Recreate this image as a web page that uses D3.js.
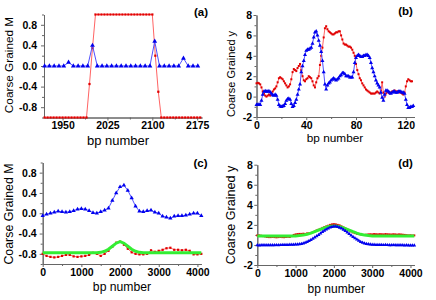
<!DOCTYPE html>
<html>
<head>
<meta charset="utf-8">
<script src="https://cdn.jsdelivr.net/npm/d3@7"></script>
<style>
body { margin: 0; background: #fff; }
text { font-family: Arial, "Liberation Sans", sans-serif; }
</style>
</head>
<body>
<svg id="svg_fig" width="436" height="300"></svg>
<script>
// panel (a): coarse grained M around bp 2000
var bpA_red = d3.range(1920, 2181, 5);
var mA_red = [-1,-1,-1,-1,-1,-1,-1,-1,-1,-1,-1,-1,-1,-1,-1,
    -0.35,0.35,
    1,1,1,1,1,1,1,1,1,1,1,1,1,1,1,1,1,1,1,1,
    0.2,-0.5,
    -1,-1,-1,-1,-1,-1,-1,-1,-1,-1,-1,-1,-1,-1];
var bpA_blue = d3.range(1920, 2177, 8);
var mA_blue = [0,0,0,0,0,0.07,0,0,0,0,0.4,0,0,0,0,0,0,0,0,0,0,0,0,0.48,0,0,0,0,0,0.15,0,0,0];

// panel (b): coarse grained y, bp 0..126
var bpB_red = d3.range(0, 126);
var yB_red = [1.3,1.35,1.3,1.2,0.9,0.5,0.3,0.1,0.0,0.1,
    0.2,0.1,0.3,0.5,0.7,0.8,1.0,1.4,1.8,1.9,
    1.8,1.7,1.5,1.3,1.1,0.9,1.0,1.2,1.7,2.4,
    2.7,2.6,2.5,2.8,3.0,3.2,2.6,2.0,1.6,1.5,
    1.7,1.8,2.0,1.9,1.8,1.5,1.1,0.9,1.4,1.8,
    2.0,3.1,4.0,4.8,5.8,6.7,6.9,6.6,6.4,6.3,
    6.2,6.1,6.1,6.2,6.3,6.3,6.4,6.4,6.0,5.6,
    5.2,5.1,5.1,5.0,4.9,4.9,4.8,4.6,4.3,4.0,
    3.2,2.6,2.2,1.8,1.6,1.3,1.1,0.9,0.7,0.6,
    0.5,0.4,0.3,0.3,0.3,0.3,0.4,0.5,0.4,0.3,
    0.6,1.4,0.4,0.0,0.3,0.5,0.4,0.3,0.4,0.5,
    0.5,0.6,0.5,0.5,0.5,0.4,0.4,0.3,0.2,0.4,
    1.0,1.5,1.7,1.6,1.5,1.5];
var bpB_blue = d3.range(0, 127);
var yB_blue = [-0.8,-0.8,-0.75,-0.8,-0.4,0.2,0.5,0.55,0.5,0.5,
    0.55,0.45,0.3,0.15,0.1,0.2,0.1,-0.3,-0.8,-0.95,
    -1.0,-0.95,-0.9,-0.7,-0.4,-0.25,-0.2,-0.3,-0.7,-1.0,
    -0.9,-0.6,-0.3,0.2,0.7,1.2,2.4,3.0,3.5,4.1,
    4.5,4.6,4.6,4.7,4.8,5.2,5.8,6.3,6.4,6.0,
    5.5,5.0,4.4,3.5,2.4,1.2,0.7,1.1,1.3,1.4,
    1.6,1.7,1.8,1.7,1.6,1.7,1.8,2.0,2.1,2.3,
    2.3,2.2,2.0,2.0,2.0,1.9,1.9,1.9,2.4,3.3,
    3.8,4.0,4.1,4.0,3.9,3.9,4.0,4.0,4.1,4.1,
    4.0,3.8,3.3,2.8,2.4,2.0,1.6,1.3,1.1,0.9,
    0.4,-0.1,-0.4,0.2,0.6,0.6,0.5,0.4,0.3,0.4,
    0.5,0.5,0.4,0.4,0.5,0.5,0.5,0.4,0.4,0.3,
    -0.3,-0.8,-1.1,-1.1,-1.0,-1.0,-0.9];

// panel (c): coarse grained M, bp 0..4100
var bpC = d3.range(0, 4101, 100);
var mC_blue = [-0.05,-0.02,0.0,0.02,0.04,0.03,0.02,0.03,0.05,0.08,
    0.09,0.08,0.05,0.01,0.0,0.03,0.06,0.1,0.25,0.4,
    0.52,0.55,0.45,0.3,0.14,0.04,0.03,0.05,0.06,0.02,
    0.0,-0.06,-0.08,-0.1,-0.06,-0.05,-0.05,-0.04,-0.02,0.0,
    0.0,-0.05];
var mC_red = [-0.8,-0.84,-0.86,-0.87,-0.86,-0.84,-0.82,-0.82,-0.85,-0.86,
    -0.85,-0.84,-0.82,-0.78,-0.8,-0.84,-0.8,-0.74,-0.66,-0.58,
    -0.56,-0.62,-0.7,-0.77,-0.8,-0.81,-0.81,-0.8,-0.73,-0.76,
    -0.74,-0.72,-0.69,-0.68,-0.72,-0.72,-0.73,-0.72,-0.74,-0.81,
    -0.81,-0.8];
var mC_fit = [-0.78,-0.78,-0.78,-0.78,-0.78,-0.78,-0.78,-0.78,-0.78,-0.78,
    -0.78,-0.78,-0.78,-0.78,-0.78,-0.77,-0.75,-0.71,-0.65,-0.59,
    -0.56,-0.59,-0.65,-0.71,-0.75,-0.77,-0.78,-0.78,-0.78,-0.78,
    -0.78,-0.78,-0.78,-0.78,-0.78,-0.78,-0.78,-0.78,-0.78,-0.78,
    -0.78,-0.78];

// panel (d): coarse grained y, bp 0..4100
var bpD = d3.range(0, 4101, 50);
var yD_blue = [-0.03,-0.04,-0.03,-0.02,-0.03,-0.02,-0.03,-0.03,-0.02,-0.02,
    -0.01,-0.02,-0.01,0.0,0.0,0.01,0.0,0.02,0.02,0.03,
    0.05,0.06,0.08,0.1,0.15,0.22,0.3,0.4,0.5,0.62,
    0.75,0.88,1.0,1.15,1.3,1.42,1.55,1.65,1.75,1.8,
    1.85,1.84,1.8,1.72,1.65,1.52,1.4,1.25,1.1,0.95,
    0.8,0.68,0.55,0.42,0.3,0.22,0.15,0.1,0.07,0.05,
    0.03,0.02,0.01,0.01,0.0,0.0,-0.01,0.0,-0.01,-0.02,
    -0.02,-0.01,-0.02,-0.03,-0.03,-0.02,-0.03,-0.04,-0.03,-0.04,
    -0.05,-0.04,-0.05];
var yD_red = [0.95,0.95,0.92,0.88,0.85,0.8,0.78,0.78,0.8,0.78,
    0.76,0.78,0.8,0.78,0.77,0.8,0.82,0.8,0.88,1.0,
    1.05,1.08,1.1,1.1,1.12,1.1,1.15,1.15,1.2,1.28,
    1.35,1.45,1.52,1.6,1.7,1.78,1.85,1.92,2.0,2.05,
    2.07,2.05,2.0,1.95,1.85,1.75,1.65,1.55,1.45,1.35,
    1.25,1.18,1.12,1.08,1.05,1.0,1.0,1.02,1.05,1.06,
    1.05,1.08,1.06,1.05,1.07,1.06,1.05,1.08,1.06,1.05,
    1.04,1.06,1.05,1.03,1.05,1.04,1.02,1.0,0.97,0.95,
    0.96,0.94,0.95];
var bpD_fit = d3.range(0, 4101, 100);
var yD_fit = [0.9,0.9,0.9,0.9,0.9,0.9,0.9,0.9,0.9,0.9,
    0.9,0.93,0.98,1.06,1.18,1.32,1.48,1.63,1.77,1.87,
    1.9,1.87,1.77,1.63,1.48,1.32,1.18,1.06,0.98,0.93,
    0.9,0.9,0.9,0.9,0.9,0.9,0.9,0.9,0.9,0.9,
    0.9,0.9];

var svg = d3.select("#svg_fig");

function fmt1(d) { return d.toFixed(1); }
function fmt0(d) { return String(d); }

function drawPanel(p) {
    var g = svg.append("g").attr("transform", "translate(" + p.left + "," + p.top + ")");
    var x = d3.scaleLinear().domain(p.xDomain).range([0, p.width]);
    var y = d3.scaleLinear().domain(p.yDomain).range([p.height, 0]);

    // minor ticks
    g.append("g").attr("transform", "translate(0," + p.height + ")")
        .call(d3.axisBottom(x).tickValues(p.xMinor).tickSize(2).tickSizeOuter(0).tickFormat(""))
        .attr("color", "#666");
    g.append("g")
        .call(d3.axisLeft(y).tickValues(p.yMinor).tickSize(2).tickSizeOuter(0).tickFormat(""))
        .attr("color", "#666");

    var xAxis = g.append("g").attr("transform", "translate(0," + p.height + ")")
        .call(d3.axisBottom(x).tickValues(p.xTicks).tickSize(3).tickSizeOuter(0)
            .tickPadding(1.5).tickFormat(p.xFormat));
    var yAxis = g.append("g")
        .call(d3.axisLeft(y).tickValues(p.yTicks).tickSize(3).tickSizeOuter(0)
            .tickPadding(p.yPad).tickFormat(p.yFormat));
    [xAxis, yAxis].forEach(function(a) {
        a.attr("color", "#666")
            .attr("font-family", "Arial, 'Liberation Sans', sans-serif")
            .attr("font-size", 10.5)
            .attr("font-weight", p.tickWeight);
        a.selectAll("text").attr("fill", "#000");
    });

    p.series.forEach(function(s) {
        var pts = s.x.map(function(v, i) { return [v, s.y[i]]; });
        var line = d3.line()
            .x(function(d) { return x(d[0]); })
            .y(function(d) { return y(d[1]); });
        g.append("path")
            .datum(pts)
            .attr("fill", "none")
            .attr("stroke", s.lineColor)
            .attr("stroke-width", s.lineWidth)
            .attr("d", line);
        if (s.symbol) {
            var sym = d3.symbol().type(s.symbol).size(s.size);
            g.selectAll(null)
                .data(pts)
                .enter().append("path")
                .attr("transform", function(d) { return "translate(" + x(d[0]) + "," + y(d[1]) + ")"; })
                .attr("fill", s.color)
                .attr("d", sym);
        }
    });

    svg.append("text")
        .attr("transform", "translate(" + p.yLabelPos[0] + "," + p.yLabelPos[1] + ") rotate(-90)")
        .attr("text-anchor", "middle")
        .attr("dy", "0.35em")
        .attr("font-size", p.yLabelSize)
        .text(p.yLabel);
    svg.append("text")
        .attr("x", p.xLabelPos[0])
        .attr("y", p.xLabelPos[1])
        .attr("text-anchor", "middle")
        .attr("dy", "0.35em")
        .attr("font-size", p.xLabelSize)
        .text("bp number");
    svg.append("text")
        .attr("x", p.tagPos[0])
        .attr("y", p.tagPos[1])
        .attr("text-anchor", "middle")
        .attr("font-size", 11.5)
        .attr("font-weight", "bold")
        .text(p.tag);
}

function redSeries(xs, ys, size) {
    return {x: xs, y: ys, lineColor: "#ff6464", lineWidth: 1, symbol: d3.symbolSquare, size: size, color: "#e00000"};
}
function blueSeries(xs, ys, size) {
    return {x: xs, y: ys, lineColor: "#5050ff", lineWidth: 1, symbol: d3.symbolTriangle, size: size, color: "#0000ee"};
}
function fitSeries(xs, ys) {
    return {x: xs, y: ys, lineColor: "#33ee33", lineWidth: 3, symbol: null};
}

drawPanel({
    left: 44, top: 14.5, width: 158, height: 103,
    xDomain: [1919, 2183], yDomain: [-1, 1],
    xTicks: [1950, 2025, 2100, 2175], xMinor: [1987.5, 2062.5, 2137.5],
    yTicks: [-0.8, -0.4, 0, 0.4, 0.8], yMinor: [-1, -0.6, -0.2, 0.2, 0.6, 1],
    xFormat: fmt0, yFormat: fmt1, yPad: 4, tickWeight: "bold",
    series: [redSeries(bpA_red, mA_red, 5), blueSeries(bpA_blue, mA_blue, 10)],
    yLabel: "Coarse Grained M", yLabelPos: [9, 65], yLabelSize: 11.8,
    xLabelPos: [118, 140], xLabelSize: 13,
    tag: "(a)", tagPos: [201, 15.5]
});

drawPanel({
    left: 256.5, top: 15, width: 158, height: 102,
    xDomain: [0, 127], yDomain: [-2, 8],
    xTicks: [0, 40, 80, 120], xMinor: [20, 60, 100],
    yTicks: [-2, 0, 2, 4, 6, 8], yMinor: [-1, 1, 3, 5, 7],
    xFormat: fmt0, yFormat: fmt0, yPad: 1.5, tickWeight: "600",
    series: [redSeries(bpB_red, yB_red, 4), blueSeries(bpB_blue, yB_blue, 7)],
    yLabel: "Coarse Grained y", yLabelPos: [231, 74], yLabelSize: 11,
    xLabelPos: [335, 138], xLabelSize: 11.8,
    tag: "(b)", tagPos: [405.5, 15]
});

drawPanel({
    left: 42.7, top: 162.5, width: 158.6, height: 101.5,
    xDomain: [0, 4100], yDomain: [-1, 1],
    xTicks: [0, 1000, 2000, 3000, 4000], xMinor: [500, 1500, 2500, 3500],
    yTicks: [-0.8, -0.4, 0, 0.4, 0.8], yMinor: [-1, -0.6, -0.2, 0.2, 0.6, 1],
    xFormat: fmt0, yFormat: fmt1, yPad: 3, tickWeight: "bold",
    series: [redSeries(bpC, mC_red, 5), fitSeries(bpC, mC_fit), blueSeries(bpC, mC_blue, 8)],
    yLabel: "Coarse Grained M", yLabelPos: [8.5, 214], yLabelSize: 12.4,
    xLabelPos: [122, 287], xLabelSize: 12.2,
    tag: "(c)", tagPos: [200.5, 167]
});

drawPanel({
    left: 257.3, top: 164.7, width: 157, height: 100.3,
    xDomain: [0, 4100], yDomain: [-2, 8],
    xTicks: [0, 1000, 2000, 3000, 4000], xMinor: [500, 1500, 2500, 3500],
    yTicks: [-2, 0, 2, 4, 6, 8], yMinor: [-1, 1, 3, 5, 7],
    xFormat: fmt0, yFormat: fmt0, yPad: 1.5, tickWeight: "600",
    series: [redSeries(bpD, yD_red, 4), fitSeries(bpD_fit, yD_fit), blueSeries(bpD, yD_blue, 6)],
    yLabel: "Coarse Grained y", yLabelPos: [230.5, 215], yLabelSize: 12.6,
    xLabelPos: [336.3, 288.3], xLabelSize: 12,
    tag: "(d)", tagPos: [405.5, 167]
});
</script>
</body>
</html>
